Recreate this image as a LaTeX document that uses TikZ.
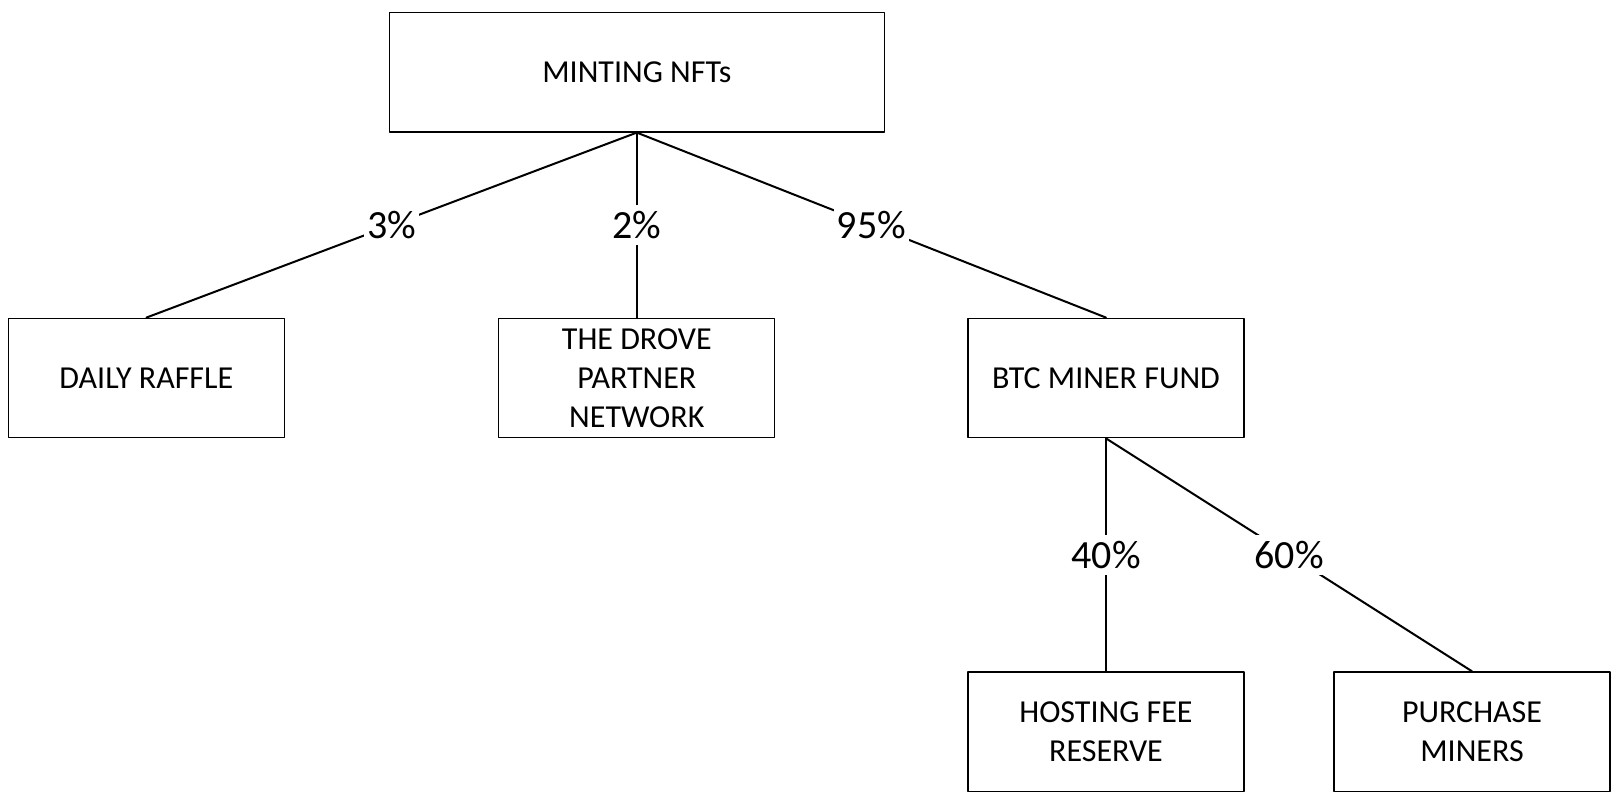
\documentclass[tikz,border=0pt]{standalone}
\usepackage{fontspec}
\setmainfont{Carlito}
\usepackage{tikz}
\usetikzlibrary{positioning}
\tikzset{
  fundbox/.style={draw, line width=1.3pt, minimum width=276pt, minimum height=119.5pt,
    inner sep=0pt, align=center, font=\fontsize{32}{39}\selectfont},
  share/.style={fill=white, inner xsep=3pt, inner ysep=6pt, font=\fontsize{40}{44}\selectfont},
  link/.style={line width=2pt},
  every picture/.style={line cap=round, line join=round}
}
\begin{document}
\begin{tikzpicture}[x=1pt, y=-1pt]
  \useasboundingbox (0,0) rectangle (1616,805);
  % top
  \node[fundbox, minimum width=495pt] (mint) at (636.8,72.2) {MINTING NFTs};
  % second row
  \node[fundbox] (raffle) at (146.4,378) {DAILY RAFFLE};
  \node[fundbox] (drove) at (636.8,378) {THE DROVE\\PARTNER\\NETWORK};
  \node[fundbox] (btc) at (1106,378) {BTC MINER FUND};
  % third row
  \node[fundbox] (hosting) at (1106,731.7) {HOSTING FEE\\RESERVE};
  \node[fundbox] (miners) at (1472,731.7) {PURCHASE\\MINERS};
  % splits
  \draw[link] (mint.south) -- node[share] {3\%} (raffle.north);
  \draw[link] (mint.south) -- node[share] {2\%} (drove.north);
  \draw[link] (mint.south) -- node[share] {95\%} (btc.north);
  \draw[link] (btc.south) -- node[share] {40\%} (hosting.north);
  \draw[link] (btc.south) -- node[share] {60\%} (miners.north);
\end{tikzpicture}
\end{document}
